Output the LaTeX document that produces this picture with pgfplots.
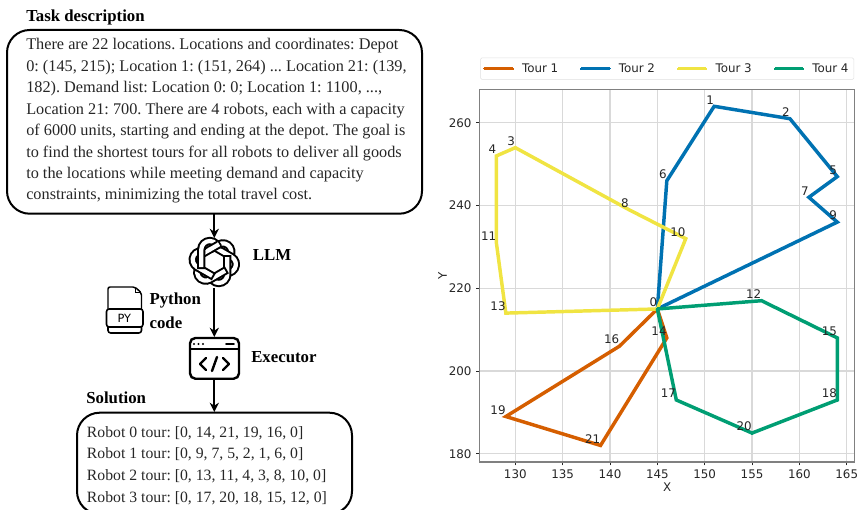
\documentclass[border=0pt]{standalone}
\usepackage{pgfplots}
\pgfplotsset{compat=1.18}
\usepackage{fontspec}
\usetikzlibrary{arrows.meta}
\setmainfont{Liberation Serif}
\newfontfamily\dv{DejaVu Sans}
\newcommand\chartfont{\dv\fontsize{8.9}{10}\selectfont}
\newcommand\legfont{\dv\fontsize{8.9}{10}\selectfont}
\newcommand\bodyfont{\fontsize{12.2}{14}\selectfont}
\newcommand\solfont{\fontsize{11.8}{14}\selectfont}
\newcommand\headfont{\bfseries\fontsize{12.6}{14}\selectfont}
\definecolor{tourA}{HTML}{D55E00}
\definecolor{tourB}{HTML}{0072B2}
\definecolor{tourC}{HTML}{F0E442}
\definecolor{tourD}{HTML}{009E73}
\definecolor{inkc}{HTML}{262626}
\begin{document}
\frenchspacing
\begin{tikzpicture}
% left part: pixel coordinates, y down
\begin{scope}[x=0.75pt,y=-0.75pt]
\coordinate (axpos) at (479.7,462);
\tikzset{body/.style={anchor=base west,inner sep=0pt,font=\bodyfont,text=black!85},
 sol/.style={anchor=base west,inner sep=0pt,font=\solfont,text=black!85},
 head/.style={anchor=base west,inner sep=0pt,font=\headfont},
 arr/.style={line width=1.6pt,-{Stealth[length=7pt,width=7pt]}}}
\node[head] at (26,21.7) {Task description};
\draw[line width=1.5pt,rounded corners=17pt] (7,30) rectangle (422,213.7);
\node[body] at (26,50) {There are 22 locations. Locations and coordinates: Depot};
\node[body] at (26,71.4) {0: (145, 215); Location 1: (151, 264) ... Location 21: (139,};
\node[body] at (26,92.8) {182). Demand list: Location 0: 0; Location 1: 1100, ...,};
\node[body] at (26,114.2) {Location 21: 700. There are 4 robots, each with a capacity};
\node[body] at (26,135.6) {of 6000 units, starting and ending at the depot. The goal is};
\node[body] at (26,157) {to find the shortest tours for all robots to deliver all goods};
\node[body] at (26,178.4) {to the locations while meeting demand and capacity};
\node[body] at (26,199.8) {constraints, minimizing the total travel cost.};
\draw[arr] (214.3,214) -- (214.3,238);
\draw[arr] (214.3,288) -- (214.3,337);
\draw[arr] (214.3,379) -- (214.3,412);
% llm knot
\foreach \k in {300,240,...,0}{
 \begin{scope}[shift={(214.3,262)},rotate=\k]
 \draw[line width=6.2pt] (-13,7) -- (-13,-12.5) arc (180:358:8.5);
 \draw[line width=3.2pt,white] (-13,5) -- (-13,-12.5) arc (180:360:8.5);
 \end{scope}}
\begin{scope}[shift={(214.3,262)},rotate=300]
 \draw[line width=6.2pt] (-13,-3) -- (-13,-12.5);
 \draw[line width=3.2pt,white] (-13,-2) -- (-13,-13);
\end{scope}
\node[head] at (252.7,260.7) {LLM};
% python file icon
\draw[line width=1.1pt,rounded corners=1.5pt] (108,309) -- (108,287) -- (135,287) -- (141.5,293) -- (141.5,309);
\draw[line width=0.8pt] (135.5,287.5) -- (135.5,292.5) -- (141,292.5);
\draw[line width=1.2pt,rounded corners=2pt] (106.5,309) rectangle (143,327);
\draw[line width=1.2pt,rounded corners=2pt] (108,327) -- (108,333) -- (141.5,333) -- (141.5,327);
\node[inner sep=0pt] at (124.3,318) {\dv\fontsize{8.5}{9}\selectfont PY};
\node[head] at (149.3,304) {Python};
\node[head] at (149.3,328) {code};
% executor icon
\draw[line width=1.8pt,rounded corners=4pt] (190,338) rectangle (239,378.7);
\draw[line width=1.3pt] (190,349) -- (239,349);
\fill (194,344) circle (1.2) (198.5,344) circle (1.2) (203,344) circle (1.2);
\draw[line width=1.4pt,line cap=round] (226,344) -- (234,344);
\draw[line width=1.8pt,line cap=round,line join=round] (206,358) -- (200,364) -- (206,370);
\draw[line width=1.8pt,line cap=round,line join=round] (223,358) -- (229,364) -- (223,370);
\draw[line width=1.8pt,line cap=round] (217,357) -- (212,371);
\node[head] at (251,362.3) {Executor};
\node[head] at (86,403) {Solution};
\begin{scope}
\clip (0,0) rectangle (857,510);
\draw[line width=1.5pt,rounded corners=17pt] (77,412.7) rectangle (352,514);
\end{scope}
\node[sol] at (86.7,437) {Robot 0 tour: [0, 14, 21, 19, 16, 0]};
\node[sol] at (86.7,458.7) {Robot 1 tour: [0, 9, 7, 5, 2, 1, 6, 0]};
\node[sol] at (86.7,480.4) {Robot 2 tour: [0, 13, 11, 4, 3, 8, 10, 0]};
\node[sol] at (86.7,502) {Robot 3 tour: [0, 17, 20, 18, 15, 12, 0]};
\end{scope}
\begin{axis}[
    at={(axpos)},
    anchor=south west,
    scale only axis,
    width=281.25pt,
    height=279.2pt,
    xmin=126.24, xmax=165.84,
    ymin=178, ymax=268,
    xtick={130,135,...,165},
    ytick={180,200,...,260},
    grid=major,
    grid style={line width=0.9pt,black!15},
    axis line style={line width=0.8pt,gray},
    tick style={line width=0.6pt,inkc},
    tick align=outside,
    tick pos=left,
    major tick length=2.6pt,
    /pgf/number format/assume math mode=true,
    tick label style={font=\chartfont,text=inkc},
    xlabel={X}, ylabel={Y},
    label style={font=\chartfont,text=inkc},
    xlabel style={at={(0.5,-0.043)},anchor=north},
    ylabel style={at={(-0.075,0.5)},anchor=south},
    legend columns=4,
    legend cell align=left,
    legend style={at={(0.5,1.027)},anchor=south,draw=black!12,rounded corners=1pt,font=\legfont,text=inkc,
      /tikz/every odd column/.append style={column sep=4pt},
      /tikz/every even column/.append style={column sep=14.3pt},inner sep=2pt},
    legend image code/.code={\draw[#1] plot coordinates {(0pt,0pt)(10pt,0pt)(20.5pt,0pt)};},
    every axis plot/.append style={line width=2.6pt,line join=miter,mark=*,mark size=0.8pt,mark options={solid,line width=0pt}},
]
\addplot[tourA] coordinates {(145,215)(146,208)(139,182)(129,189)(141,206)(145,215)};
\addlegendentry{Tour 1}
\addplot[tourB] coordinates {(145,215)(164,236)(161,242)(164,247)(159,261)(151,264)(146,246)(145,215)};
\addlegendentry{Tour 2}
\addplot[tourC] coordinates {(145,215)(129,214)(128,231)(128,252)(130,254)(142,239)(148,232)(145,215)};
\addlegendentry{Tour 3}
\addplot[tourD] coordinates {(145,215)(147,193)(155,185)(164,193)(164,208)(156,217)(145,215)};
\addlegendentry{Tour 4}
\addplot[forget plot,draw=none,mark=none,nodes near coords,point meta=explicit symbolic,
  every node near coord/.style={anchor=south east,inner sep=0pt,font=\chartfont,text=inkc,xshift=-0.2pt,yshift=1.6pt}]
  table[meta=label] {
x y label
145 215 0
151 264 1
159 261 2
130 254 3
128 252 4
164 247 5
146 246 6
161 242 7
142 239 8
164 236 9
148 232 10
128 231 11
156 217 12
129 214 13
146 208 14
164 208 15
141 206 16
147 193 17
164 193 18
129 189 19
155 185 20
139 182 21
};
\end{axis}
\pgfresetboundingbox
\path[use as bounding box] (0,0) rectangle (642.75pt,-382.5pt);
\end{tikzpicture}
\end{document}
